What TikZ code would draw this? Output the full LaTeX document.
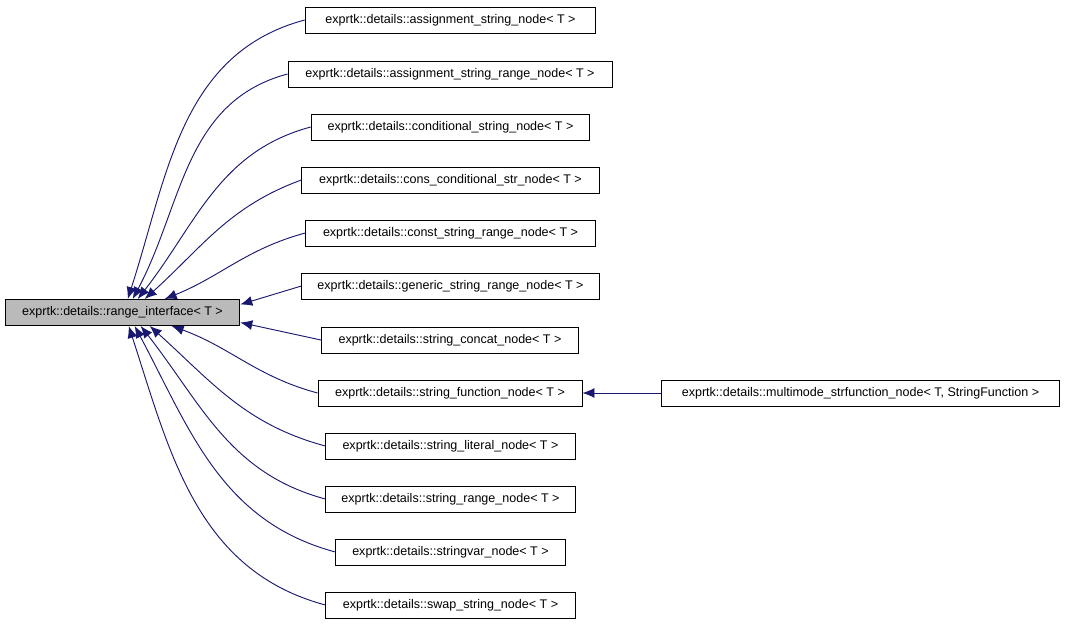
\documentclass[tikz,border=0pt]{standalone}
\usepackage{fontspec}
\setmainfont{Liberation Sans}
\usepackage{tikz}
\usetikzlibrary{calc,arrows,arrows.meta}

\tikzset{
  cls/.style={draw=black,fill=white,minimum height=19.5pt,inner sep=0pt,line width=0.7pt,font=\fontsize{9.4}{11}\selectfont},
  base/.style={cls,fill=black!27},
  inh/.style={draw={rgb,255:red,25;green,25;blue,112},-{Latex[length=9pt,width=7.5pt]},line width=0.7pt},
}

\begin{document}
\begin{tikzpicture}[x=0.75pt,y=-0.75pt]
		\useasboundingbox (0,0) rectangle (1067,627);
		\fill[white] (0,0) rectangle (1067,627);
		%root
		\node[base,minimum width=176pt] (ri) at (122.5,312.5) {exprtk::details::range\_interface< T >};
		%derived
		\node[cls,minimum width=218pt] (n1) at (450.5,20) {exprtk::details::assignment\_string\_node< T >};
		\node[cls,minimum width=243pt] (n2) at (450,74) {exprtk::details::assignment\_string\_range\_node< T >};
		\node[cls,minimum width=209pt] (n3) at (450.5,127) {exprtk::details::conditional\_string\_node< T >};
		\node[cls,minimum width=223pt] (n4) at (450.5,180) {exprtk::details::cons\_conditional\_str\_node< T >};
		\node[cls,minimum width=217pt] (n5) at (450.5,233) {exprtk::details::const\_string\_range\_node< T >};
		\node[cls,minimum width=223pt] (n6) at (450.5,286) {exprtk::details::generic\_string\_range\_node< T >};
		\node[cls,minimum width=193pt] (n7) at (450,340) {exprtk::details::string\_concat\_node< T >};
		\node[cls,minimum width=198pt] (n8) at (450,393) {exprtk::details::string\_function\_node< T >};
		\node[cls,minimum width=187pt] (n9) at (450.5,446) {exprtk::details::string\_literal\_node< T >};
		\node[cls,minimum width=187pt] (n10) at (450.5,499) {exprtk::details::string\_range\_node< T >};
		\node[cls,minimum width=172pt] (n11) at (450.5,552) {exprtk::details::stringvar\_node< T >};
		\node[cls,minimum width=187pt] (n12) at (450.5,605) {exprtk::details::swap\_string\_node< T >};
		\node[cls,minimum width=298pt] (mm) at (860.5,393) {exprtk::details::multimode\_strfunction\_node< T, StringFunction >};
		%edges
		\foreach \n/\x/\a/\o in {n1/123/72/195,n2/128/62/195,n3/133/52/195,n4/140/42/200,n5/160/22/195}{
			\draw[inh] (\n.west) to[out=\o,in=\a] ($(ri.north west)+(\x,0)$);
		}
		\foreach \n/\x/\a/\o in {n8/167/-20/165,n9/145/-42/165,n10/136/-52/165,n11/130/-62/165,n12/124/-72/165}{
			\draw[inh] (\n.west) to[out=\o,in=\a] ($(ri.south west)+(\x,0)$);
		}
		\draw[inh] (n6.west) -- ($(ri.east)+(0,-8)$);
		\draw[inh] (n7.west) -- ($(ri.east)+(0,10)$);
		\draw[inh] (mm.west) -- (n8.east);
\end{tikzpicture}
\end{document}
